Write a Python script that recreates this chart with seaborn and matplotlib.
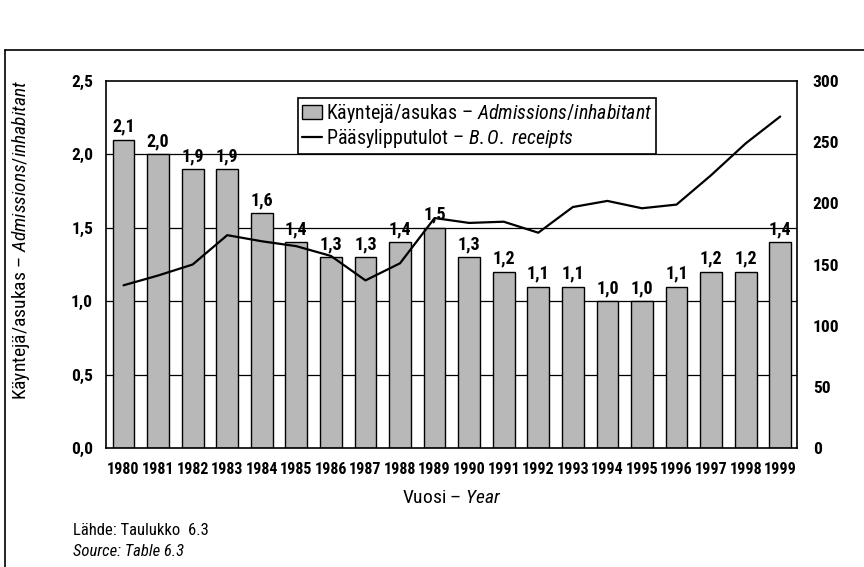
import matplotlib
matplotlib.use("Agg")
import matplotlib.pyplot as plt
from matplotlib import font_manager
from matplotlib.ticker import FuncFormatter, MultipleLocator
from matplotlib.lines import Line2D
import seaborn as sns
import numpy as np
import pandas as pd

# Data
years = [str(y) for y in range(1980, 2000)]
admissions = [2.1, 2.0, 1.9, 1.9, 1.6, 1.4, 1.3, 1.3, 1.4, 1.5,
              1.3, 1.2, 1.1, 1.1, 1.0, 1.0, 1.1, 1.2, 1.2, 1.4]
receipts = [133, 141, 150, 174, 169, 165, 157, 137, 151, 188,
            184, 185, 176, 197, 202, 196, 199, 223, 249, 271]

bar_label = "Käyntejä/asukas – $\\mathit{Admissions/inhabitant}$"
line_label = "Pääsylipputulot – $\\mathit{B.O.\\ receipts}$"

# pick a condensed face, closest to the Univers Condensed of the original
installed = {f.name for f in font_manager.fontManager.ttflist}
narrow = "DejaVu Sans"
for cand in ["Roboto Condensed", "Archivo Narrow", "PT Sans Narrow",
             "Liberation Sans Narrow", "Fira Sans Condensed",
             "IBM Plex Sans Condensed", "Barlow Condensed",
             "Asap Condensed", "Encode Sans Condensed", "Pragati Narrow"]:
    if cand in installed:
        narrow = cand
        break

sns.set_style("white")
plt.rcParams["font.family"] = [narrow, "DejaVu Sans"]
plt.rcParams["mathtext.fontset"] = "custom"
plt.rcParams["mathtext.rm"] = narrow
plt.rcParams["mathtext.it"] = narrow + ":italic"
plt.rcParams["mathtext.bf"] = narrow + ":bold"
for k in ["text.color", "axes.labelcolor", "xtick.color", "ytick.color"]:
    plt.rcParams[k] = "black"

df = pd.DataFrame({"year": years, "adm": admissions, "rec": receipts})

fig = plt.figure(figsize=(8.64, 5.67), dpi=100)
ax = fig.add_axes([0.123, 0.21, 0.8, 0.647])

# gridlines behind bars
for g in [0.5, 1.0, 1.5, 2.0]:
    ax.axhline(g, color="black", lw=0.9, zorder=0)

sns.barplot(data=df, x="year", y="adm", color="#b8b8b8", width=0.63,
            edgecolor="black", linewidth=1.0, saturation=1, ax=ax,
            label=bar_label, zorder=2)
for c in ax.containers:
    ax.bar_label(c, labels=[f"{v:.1f}".replace(".", ",") for v in admissions],
                 padding=3, fontsize=13, fontweight="bold")

ax.set_ylim(0, 2.5)
ax.yaxis.set_major_locator(MultipleLocator(0.5))
ax.yaxis.set_major_formatter(FuncFormatter(lambda v, p: f"{v:.1f}".replace(".", ",")))
ax.set_xlim(-0.5, len(years) - 0.5)
ax.tick_params(axis="both", length=0)
ax.tick_params(axis="y", pad=9.5, labelsize=12.5)
ax.tick_params(axis="x", pad=10, labelsize=11.5)
for t in ax.get_xticklabels() + ax.get_yticklabels():
    t.set_fontweight("bold")
ax.set_xlabel("Vuosi – $\\mathit{Year}$", fontsize=14, labelpad=9)
ax.set_ylabel(bar_label, fontsize=14)
ax.yaxis.set_label_coords(-0.107, 0.567)
for s in ax.spines.values():
    s.set_visible(True)
    s.set_color("black")
    s.set_linewidth(1.2)

ax2 = ax.twinx()
sns.lineplot(x=np.arange(len(years)), y=receipts, color="black", lw=1.6,
             ax=ax2, label=line_label)
ax2.set_ylim(0, 300)
ax2.yaxis.set_major_locator(MultipleLocator(50))
ax2.tick_params(axis="y", length=0, labelsize=12.5, pad=11)
for t in ax2.get_yticklabels():
    t.set_fontweight("bold")
ax2.set_ylabel("")
for s in ax2.spines.values():
    s.set_visible(False)

h1, l1 = ax.get_legend_handles_labels()
h2, l2 = ax2.get_legend_handles_labels()
if ax.get_legend():
    ax.get_legend().remove()
leg = ax2.legend(h1 + h2, l1 + l2, loc="upper left", bbox_to_anchor=(0.277, 0.955),
                 fontsize=14.3, frameon=True, fancybox=False, edgecolor="black",
                 framealpha=1, handlelength=1.0, handletextpad=0.2,
                 borderpad=0.2, labelspacing=0.1, borderaxespad=0)
leg.get_frame().set_linewidth(1.2)

# source notes
fig.text(0.0845, 0.0635, "Lähde: Taulukko  6.3", fontsize=12, va="center")
fig.text(0.0845, 0.0265, "Source: Table 6.3", fontsize=12, style="italic", va="center")

# page frame
fig.add_artist(Line2D([0.006, 0.006], [0.0, 0.912], color="black", lw=1.2,
                      transform=fig.transFigure))
fig.add_artist(Line2D([0.006, 1.0], [0.912, 0.912], color="black", lw=1.2,
                      transform=fig.transFigure))

fig.savefig("out.png", dpi=100)
